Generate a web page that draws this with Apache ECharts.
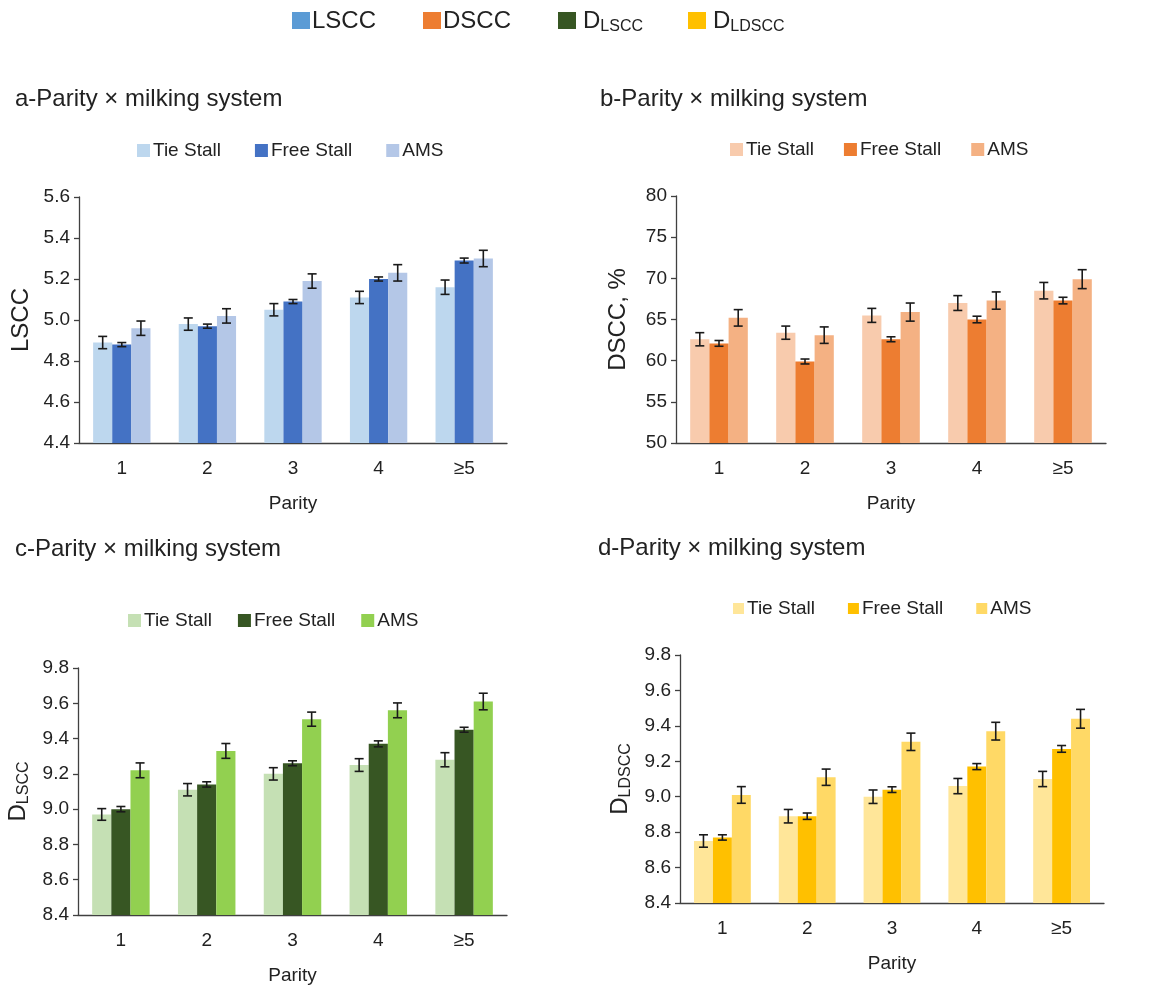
<!DOCTYPE html>
<html><head><meta charset="utf-8">
<script src="https://cdn.jsdelivr.net/npm/echarts@6/dist/echarts.min.js"></script>
<style>html,body{margin:0;padding:0;background:#fff}#c{width:1161px;height:986px}</style>
</head><body><div id="c"></div>
<script>
// ---------- data ----------
const categories = ['1', '2', '3', '4', '≥5'];
const groups = ['Tie Stall', 'Free Stall', 'AMS'];

// a - LSCC
const lsccTie = [4.89, 4.98, 5.05, 5.11, 5.16];
const lsccTieErr = [0.03, 0.03, 0.03, 0.03, 0.035];
const lsccFree = [4.88, 4.97, 5.09, 5.20, 5.29];
const lsccFreeErr = [0.01, 0.01, 0.01, 0.01, 0.012];
const lsccAms = [4.96, 5.02, 5.19, 5.23, 5.30];
const lsccAmsErr = [0.035, 0.035, 0.035, 0.04, 0.04];

// b - DSCC, %
const dsccTie = [62.6, 63.4, 65.5, 67.0, 68.5];
const dsccTieErr = [0.8, 0.8, 0.85, 0.9, 1.0];
const dsccFree = [62.1, 59.9, 62.6, 65.0, 67.3];
const dsccFreeErr = [0.35, 0.3, 0.3, 0.4, 0.4];
const dsccAms = [65.2, 63.1, 65.9, 67.3, 69.9];
const dsccAmsErr = [1.0, 1.0, 1.1, 1.05, 1.15];

// c - D_LSCC
const dlsccTie = [8.97, 9.11, 9.20, 9.25, 9.28];
const dlsccTieErr = [0.033, 0.035, 0.035, 0.036, 0.04];
const dlsccFree = [9.00, 9.14, 9.26, 9.37, 9.45];
const dlsccFreeErr = [0.015, 0.015, 0.014, 0.017, 0.014];
const dlsccAms = [9.22, 9.33, 9.51, 9.56, 9.61];
const dlsccAmsErr = [0.042, 0.042, 0.04, 0.042, 0.047];

// d - D_LDSCC
const dldsccTie = [8.75, 8.89, 9.00, 9.06, 9.10];
const dldsccTieErr = [0.035, 0.038, 0.038, 0.043, 0.043];
const dldsccFree = [8.77, 8.89, 9.04, 9.17, 9.27];
const dldsccFreeErr = [0.015, 0.018, 0.016, 0.017, 0.019];
const dldsccAms = [9.01, 9.11, 9.31, 9.37, 9.44];
const dldsccAmsErr = [0.047, 0.046, 0.049, 0.05, 0.053];

// axis ranges
const yRanges = {
  a: { min: 4.4, max: 5.6, interval: 0.2, dec: 1 },
  b: { min: 50, max: 80, interval: 5, dec: 0 },
  c: { min: 8.4, max: 9.8, interval: 0.2, dec: 1 },
  d: { min: 8.4, max: 9.8, interval: 0.2, dec: 1 }
};

// ---------- layout / style ----------
const FONT = "'Liberation Sans', Arial, Helvetica, sans-serif";
const TXT = '#222222';
const AXC = '#404040';
const CAT_GAP = 0.33;

const panels = [
  { id: 'a', title: 'a-Parity × milking system', tx: 15, ty: 100,
    grid: { left: 79, top: 197, width: 428, height: 246 },
    legend: { left: 137, top: 141, iw: 13, gap: 34 },
    yName: 'LSCC', rich: false,
    colors: ['#bdd7ee', '#4472c4', '#b4c7e7'],
    vals: [lsccTie, lsccFree, lsccAms], errs: [lsccTieErr, lsccFreeErr, lsccAmsErr] },
  { id: 'b', title: 'b-Parity × milking system', tx: 600, ty: 100,
    grid: { left: 676, top: 196, width: 430, height: 247 },
    legend: { left: 730, top: 140, iw: 13, gap: 30 },
    yName: 'DSCC, %', rich: false,
    colors: ['#f8cbad', '#ed7d31', '#f4b183'],
    vals: [dsccTie, dsccFree, dsccAms], errs: [dsccTieErr, dsccFreeErr, dsccAmsErr] },
  { id: 'c', title: 'c-Parity × milking system', tx: 15, ty: 550,
    grid: { left: 78, top: 668, width: 429, height: 247 },
    legend: { left: 128, top: 611, iw: 13, gap: 26 },
    yName: '{m|D}{s|LSCC}', rich: true,
    colors: ['#c5e0b4', '#375623', '#92d050'],
    vals: [dlsccTie, dlsccFree, dlsccAms], errs: [dlsccTieErr, dlsccFreeErr, dlsccAmsErr] },
  { id: 'd', title: 'd-Parity × milking system', tx: 598, ty: 549,
    grid: { left: 680, top: 655, width: 424, height: 248 },
    legend: { left: 733, top: 599, iw: 11, gap: 33 },
    yName: '{m|D}{s|LDSCC}', rich: true,
    colors: ['#ffe699', '#ffc000', '#ffd966'],
    vals: [dldsccTie, dldsccFree, dldsccAms], errs: [dldsccTieErr, dldsccFreeErr, dldsccAmsErr] }
];

function makeErr(k) {
  return function (params, api) {
    const idx = api.value(0), v = api.value(1), e = api.value(2);
    const band = api.size([1, 0])[0];
    const bw = band * (1 - CAT_GAP) / 3;
    const c = api.coord([idx, v]);
    const x = c[0] + (k - 1) * bw;
    const yt = api.coord([idx, v + e])[1];
    const yb = api.coord([idx, v - e])[1];
    const hw = 4.5;
    const st = { stroke: '#1a1a1a', lineWidth: 1.6 };
    return { type: 'group', children: [
      { type: 'line', shape: { x1: x, y1: yt, x2: x, y2: yb }, style: st },
      { type: 'line', shape: { x1: x - hw, y1: yt, x2: x + hw, y2: yt }, style: st },
      { type: 'line', shape: { x1: x - hw, y1: yb, x2: x + hw, y2: yb }, style: st }
    ]};
  };
}

const option = {
  animation: false,
  backgroundColor: '#fff',
  textStyle: { fontFamily: FONT },
  grid: [], xAxis: [], yAxis: [], series: [], legend: [], title: [], graphic: []
};

panels.forEach((p, i) => {
  const r = yRanges[p.id];
  option.grid.push(Object.assign({ containLabel: false }, p.grid));
  option.title.push({ text: p.title, left: p.tx, top: p.ty - 13, padding: 0,
    textStyle: { fontSize: 24, fontWeight: 'normal', color: TXT, fontFamily: FONT } });
  option.xAxis.push({
    type: 'category', gridIndex: i, data: categories,
    name: 'Parity', nameLocation: 'middle', nameGap: 51,
    nameTextStyle: { fontSize: 19, color: TXT, fontFamily: FONT },
    axisLine: { lineStyle: { color: AXC, width: 1.3 } },
    axisTick: { alignWithLabel: true, length: 5, lineStyle: { color: AXC, width: 1.3 } },
    axisLabel: { fontSize: 19, color: TXT, margin: 16, fontFamily: FONT }
  });
  const nts = { fontSize: 24, color: TXT, fontFamily: FONT };
  if (p.rich) {
    nts.rich = {
      m: { fontSize: 24, lineHeight: 28, color: TXT, fontFamily: FONT },
      s: { fontSize: 16, lineHeight: 16, verticalAlign: 'bottom', color: TXT, fontFamily: FONT }
    };
  }
  option.yAxis.push({
    type: 'value', gridIndex: i, min: r.min, max: r.max, interval: r.interval,
    name: p.yName, nameLocation: 'middle', nameRotate: 90, nameGap: 46,
    nameTextStyle: nts,
    splitLine: { show: false },
    axisLine: { show: true, lineStyle: { color: AXC, width: 1.3 } },
    axisTick: { show: true, length: 5, lineStyle: { color: AXC, width: 1.3 } },
    axisLabel: { fontSize: 19, color: TXT, margin: 9, fontFamily: FONT,
      formatter: v => Number(v).toFixed(r.dec) }
  });
  const names = groups.map(g => p.id + '|' + g);
  option.legend.push({
    left: p.legend.left, top: p.legend.top, padding: 0, orient: 'horizontal',
    itemWidth: p.legend.iw, itemHeight: p.legend.iw, itemGap: p.legend.gap, icon: 'rect',
    selectedMode: false, data: names,
    formatter: n => n.split('|')[1],
    textStyle: { fontSize: 19, color: TXT, fontFamily: FONT, padding: [0, 0, 0, -2] }
  });
  p.vals.forEach((vals, k) => {
    option.series.push({
      type: 'bar', name: names[k], xAxisIndex: i, yAxisIndex: i, data: vals,
      barGap: '0%', barCategoryGap: (CAT_GAP * 100) + '%',
      itemStyle: { color: p.colors[k] }
    });
  });
  p.vals.forEach((vals, k) => {
    option.series.push({
      type: 'custom', name: names[k] + ' err', xAxisIndex: i, yAxisIndex: i, z: 5, silent: true,
      data: vals.map((v, j) => [j, v, p.errs[k][j]]),
      encode: { x: 0, y: 1 },
      renderItem: makeErr(k)
    });
  });
});

// top legend of measures
const topItems = [
  { x: 292, color: '#5b9bd5', text: '{m|LSCC}' },
  { x: 423, color: '#ed7d31', text: '{m|DSCC}' },
  { x: 558, color: '#375623', text: '{m|D}{s|LSCC}', tx: 583 },
  { x: 688, color: '#ffc000', text: '{m|D}{s|LDSCC}', tx: 713 }
];
topItems.forEach(it => {
  option.graphic.push({ type: 'rect', left: it.x, top: 12, shape: { width: 18, height: 17 },
    style: { fill: it.color } });
  option.graphic.push({ type: 'text', x: it.tx || (it.x + 20), y: 21,
    style: { text: it.text, textVerticalAlign: 'middle', fill: TXT, fontFamily: FONT,
      rich: {
        m: { fontSize: 24, lineHeight: 28, fill: TXT, fontFamily: FONT },
        s: { fontSize: 16, lineHeight: 16, verticalAlign: 'bottom', fill: TXT, fontFamily: FONT }
      } } });
});

const chart = echarts.init(document.getElementById('c'), null, { renderer: 'canvas' });
chart.setOption(option);
</script>
</body></html>
